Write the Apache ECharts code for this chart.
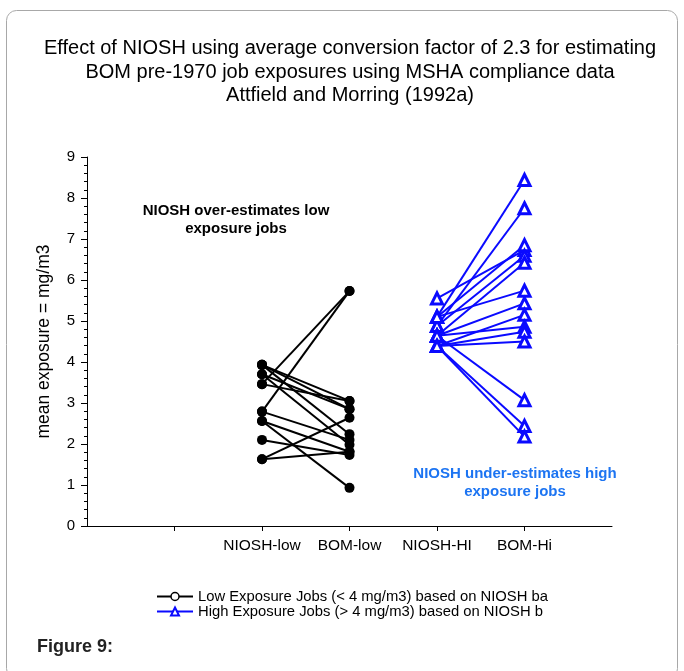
<!DOCTYPE html>
<html>
<head>
<meta charset="utf-8">
<script src="https://cdn.jsdelivr.net/npm/echarts@6/dist/echarts.min.js"></script>
<style>
  html, body { margin: 0; padding: 0; background: #fff; }
  #chart { width: 684px; height: 671px; }
</style>
</head>
<body>
<div id="chart"></div>
<script>
// categories on the x axis (positions 2..5 of a 0..6 axis)
const categories = ['NIOSH-low', 'BOM-low', 'NIOSH-HI', 'BOM-Hi']

// low exposure jobs: NIOSH estimate -> BOM estimate, one pair per job
const lowNiosh = [3.93, 3.93, 3.93, 3.70, 3.70, 3.46, 3.46, 2.79, 2.79, 2.56, 2.56, 2.10, 1.63, 1.63]
const lowBom   = [3.05, 2.85, 2.24, 2.85, 1.98, 5.73, 3.05, 5.73, 2.10, 0.93, 1.81, 1.73, 2.64, 1.81]

// high exposure jobs
const hiNiosh = [5.55, 5.10, 4.88, 5.10, 4.88, 4.64, 5.10, 4.64, 4.39, 4.64, 4.39, 4.39, 4.64, 4.39, 4.39]
const hiBom   = [6.73, 8.44, 7.75, 6.85, 6.59, 6.42, 5.74, 5.43, 5.15, 4.86, 4.74, 4.50, 3.07, 2.44, 2.18]

const lowName = 'Low Exposure Jobs (< 4 mg/m3) based on NIOSH ba'
const hiName = 'High Exposure Jobs (> 4 mg/m3) based on NIOSH b'

const font = "'Liberation Sans', Arial, sans-serif"
const blue = '#0a0aff'

let mychart = echarts.init(document.getElementById('chart'))

function catX(name) {
  return categories.indexOf(name) + 2
}

let series = []
lowNiosh.forEach((v, i) => {
  series.push({
    name: lowName,
    type: 'line',
    symbol: 'circle',
    symbolSize: 10,
    color: '#000',
    lineStyle: { color: '#000', width: 2 },
    itemStyle: { color: '#000' },
    data: [[catX('NIOSH-low'), v], [catX('BOM-low'), lowBom[i]]],
  })
})
hiNiosh.forEach((v, i) => {
  series.push({
    name: hiName,
    type: 'line',
    symbol: 'triangle',
    symbolSize: 11,
    color: blue,
    lineStyle: { color: blue, width: 2 },
    itemStyle: { color: '#fff', borderColor: blue, borderWidth: 3 },
    data: [[catX('NIOSH-HI'), v], [catX('BOM-Hi'), hiBom[i]]],
  })
})

let option = {
  animation: false,
  textStyle: { fontFamily: font },
  grid: { left: 87, right: 72, top: 157, bottom: 145, outerBoundsMode: 'none' },
  legend: {
    orient: 'vertical',
    left: 151,
    top: 584,
    itemWidth: 36,
    itemHeight: 10,
    itemGap: 0,
    textStyle: { fontSize: 14.8, lineHeight: 14, color: '#000', fontFamily: font },
    data: [
      { name: lowName, itemStyle: { color: '#fff', borderColor: '#000', borderWidth: 1.5 } },
      { name: hiName },
    ],
  },
  xAxis: {
    type: 'value',
    min: 0,
    max: 6,
    interval: 1,
    splitLine: { show: false },
    axisLine: { lineStyle: { color: '#000', width: 1 } },
    axisTick: { length: 5, lineStyle: { color: '#000' }, customValues: [1, 2, 3, 4, 5] },
    axisLabel: {
      customValues: [2, 3, 4, 5],
      margin: 12,
      fontSize: 15.5,
      color: '#000',
      formatter: (v) => categories[v - 2] || '',
    },
  },
  yAxis: {
    type: 'value',
    min: 0,
    max: 9,
    interval: 1,
    name: 'mean exposure = mg/m3',
    nameLocation: 'middle',
    nameGap: 34,
    nameTextStyle: { fontSize: 17.5, color: '#000', fontFamily: font },
    splitLine: { show: false },
    axisLine: { show: true, lineStyle: { color: '#000', width: 1 } },
    axisTick: { length: 6, lineStyle: { color: '#000' } },
    minorTick: { show: true, splitNumber: 5, length: 3, lineStyle: { color: '#000' } },
    axisLabel: { margin: 12, fontSize: 15, color: '#000' },
  },
  graphic: [
    {
      type: 'rect',
      shape: { x: 6.5, y: 10.5, width: 671, height: 668, r: 10 },
      style: { fill: 'none', stroke: '#a8a8a8', lineWidth: 1 },
      silent: true,
    },
    {
      type: 'text',
      x: 350,
      y: 37,
      style: {
        text: 'Effect of NIOSH using average conversion factor of 2.3 for estimating\nBOM pre-1970 job exposures using MSHA compliance data\nAttfield and Morring (1992a)',
        font: '20px ' + font,
        fill: '#000',
        textAlign: 'center',
        lineHeight: 23.5,
      },
    },
    {
      type: 'text',
      x: 236,
      y: 202,
      style: {
        text: 'NIOSH over-estimates low\nexposure jobs',
        font: 'bold 15px ' + font,
        fill: '#000',
        textAlign: 'center',
        lineHeight: 18,
      },
    },
    {
      type: 'text',
      x: 515,
      y: 465,
      style: {
        text: 'NIOSH under-estimates high\nexposure jobs',
        font: 'bold 15px ' + font,
        fill: '#1c74f2',
        textAlign: 'center',
        lineHeight: 18,
      },
    },
    {
      type: 'text',
      x: 37,
      y: 638,
      style: {
        text: 'Figure 9:',
        font: 'bold 18px ' + font,
        fill: '#222',
      },
    },
  ],
  series: series,
}
mychart.setOption(option, true)
</script>
</body>
</html>
